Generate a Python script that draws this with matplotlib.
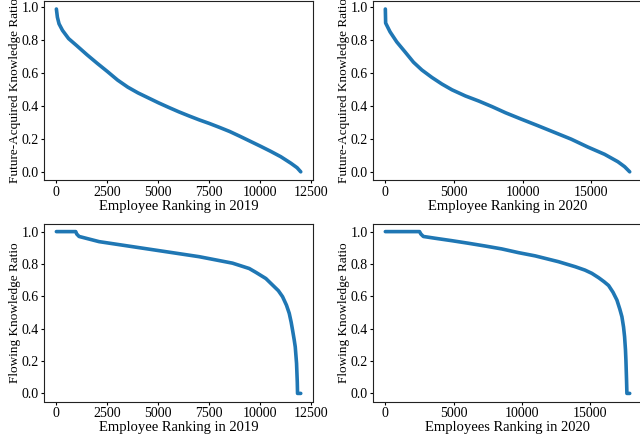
import matplotlib
matplotlib.use('Agg')
import matplotlib.pyplot as plt

plt.rcParams['font.family'] = ['Liberation Serif', 'DejaVu Serif']

# Данные (ранг сотрудника -> доля знаний)
rank_future_2019 = [0, 50, 130, 300, 600, 1000, 1500, 2000, 2500, 3000, 3500, 4000,
                    4500, 5000, 5500, 6000, 6500, 7000, 7500, 8000, 8500, 9000,
                    9500, 10000, 10500, 11000, 11500, 11800, 11980]
future_2019 = [0.99, 0.94, 0.90, 0.86, 0.81, 0.767, 0.712, 0.66, 0.61, 0.558, 0.515,
               0.48, 0.45, 0.42, 0.392, 0.365, 0.34, 0.316, 0.294, 0.27, 0.245, 0.216,
               0.186, 0.156, 0.125, 0.092, 0.052, 0.025, 0.0]

rank_future_2020 = [0, 22, 343, 830, 1440, 2050, 2660, 3390, 4120, 4856, 5830, 6810,
                    7780, 8760, 9860, 11080, 12300, 13520, 14740, 15960, 16930, 17420, 17790]
future_2020 = [0.985, 0.90, 0.847, 0.786, 0.725, 0.663, 0.616, 0.571, 0.531, 0.496, 0.459,
               0.428, 0.394, 0.357, 0.32, 0.28, 0.239, 0.198, 0.15, 0.106, 0.061, 0.031, 0.0]

rank_flow_2019 = [0, 950, 1000, 1114, 2097, 3735, 5374, 7012, 8650, 9469, 9798, 10288,
                  10614, 10900, 11106, 11300, 11435, 11530, 11597, 11680, 11730, 11794,
                  11830, 11843, 12000]
flow_2019 = [1.0, 1.0, 0.985, 0.97, 0.938, 0.907, 0.876, 0.845, 0.805, 0.772, 0.748, 0.71,
             0.67, 0.635, 0.598, 0.545, 0.495, 0.44, 0.392, 0.33, 0.288, 0.186,
             0.07, 0.0, 0.0]

rank_flow_2020 = [0, 2500, 2600, 2780, 3636, 4856, 6076, 7296, 8516, 9736, 10958, 12665,
                  13887, 14600, 15103, 15600, 16000, 16325, 16650, 16935, 17150, 17300,
                  17420, 17496, 17560, 17593, 17640, 17666, 17870]
flow_2020 = [1.0, 1.0, 0.985, 0.97, 0.959, 0.944, 0.928, 0.911, 0.893, 0.87, 0.85,
             0.814, 0.783, 0.762, 0.742, 0.715, 0.69, 0.667, 0.625, 0.577, 0.52, 0.474,
             0.41, 0.35, 0.27, 0.206, 0.08, 0.0, 0.0]

panels = [
    (rank_future_2019, future_2019, 'Employee Ranking in 2019', 'Future-Acquired Knowledge Ratio',
     [0, 2500, 5000, 7500, 10000, 12500]),
    (rank_future_2020, future_2020, 'Employee Ranking in 2020', 'Future-Acquired Knowledge Ratio',
     [0, 5000, 10000, 15000]),
    (rank_flow_2019, flow_2019, 'Employee Ranking in 2019', 'Flowing Knowledge Ratio',
     [0, 2500, 5000, 7500, 10000, 12500]),
    (rank_flow_2020, flow_2020, 'Employees Ranking in 2020', 'Flowing Knowledge Ratio',
     [0, 5000, 10000, 15000]),
]

# Положение осей в долях рисунка
boxes = [
    [0.069, 0.591, 0.420, 0.407],
    [0.583, 0.591, 0.420, 0.407],
    [0.069, 0.0875, 0.420, 0.4045],
    [0.583, 0.0875, 0.420, 0.4045],
]

fig = plt.figure(figsize=(6.4, 4.4), dpi=100)

for (x, y, xlabel, ylabel, xticks), box in zip(panels, boxes):
    ax = fig.add_axes(box)
    ax.plot(x, y, color='#1f77b4', lw=2.6, solid_capstyle='round')
    ax.set_xticks(xticks)
    ax.set_yticks([0.0, 0.2, 0.4, 0.6, 0.8, 1.0])
    ax.set_yticklabels(['0.0', '0.2', '0.4', '0.6', '0.8', '1.0'])
    ax.tick_params(labelsize=10, length=2.5, width=0.8, pad=1.5)
    ax.set_xlabel(xlabel, fontsize=10.5, labelpad=1)
    ax.set_ylabel(ylabel, fontsize=9.5, labelpad=0.5)
    for s in ax.spines.values():
        s.set_color('#222222')

fig.savefig('out.png', dpi=100)
